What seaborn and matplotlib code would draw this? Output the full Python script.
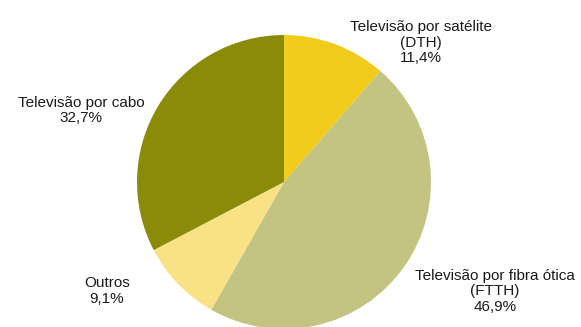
import matplotlib
matplotlib.use("Agg")
import matplotlib.pyplot as plt
import seaborn as sns

# Pay-TV subscribers by access technology (%)
categories = ["Televisão por satélite\n(DTH)", "Televisão por fibra ótica\n(FTTH)",
              "Outros", "Televisão por cabo"]
shares = [11.4, 46.9, 9.1, 32.7]
colors = sns.color_palette(["#F2CC1A", "#C4C482", "#F9E285", "#8B8B0A"])

# label anchor points in figure pixels (x, y from top)
label_pos = [(421, 42.5), (495, 291.5), (107, 291), (81, 110.5)]

sns.set_style("white")
plt.rcParams["font.family"] = ["Liberation Sans", "DejaVu Sans"]

W, H = 581, 327
fig = plt.figure(figsize=(W / 100, H / 100), dpi=100)
fig.patch.set_facecolor("white")

# square axes holding the pie: centre (284, 182) px, radius 147 px
cx, cy, r = 284, 182, 147
ax = fig.add_axes([(cx - r) / W, 1 - (cy + r) / H, 2 * r / W, 2 * r / H])
ax.pie(shares, colors=colors, startangle=90, counterclock=False,
       wedgeprops=dict(linewidth=0))
ax.set_xlim(-1, 1)
ax.set_ylim(-1, 1)
ax.set_aspect("equal")
ax.axis("off")

for name, val, (px, py) in zip(categories, shares, label_pos):
    txt = f"{name}\n{val:.1f}%".replace(".", ",")
    fig.text(px / W, 1 - py / H, txt, ha="center", va="center",
             fontsize=11, color="#1a1a1a", linespacing=1.1)

fig.savefig("out.png", dpi=100, facecolor="white")
